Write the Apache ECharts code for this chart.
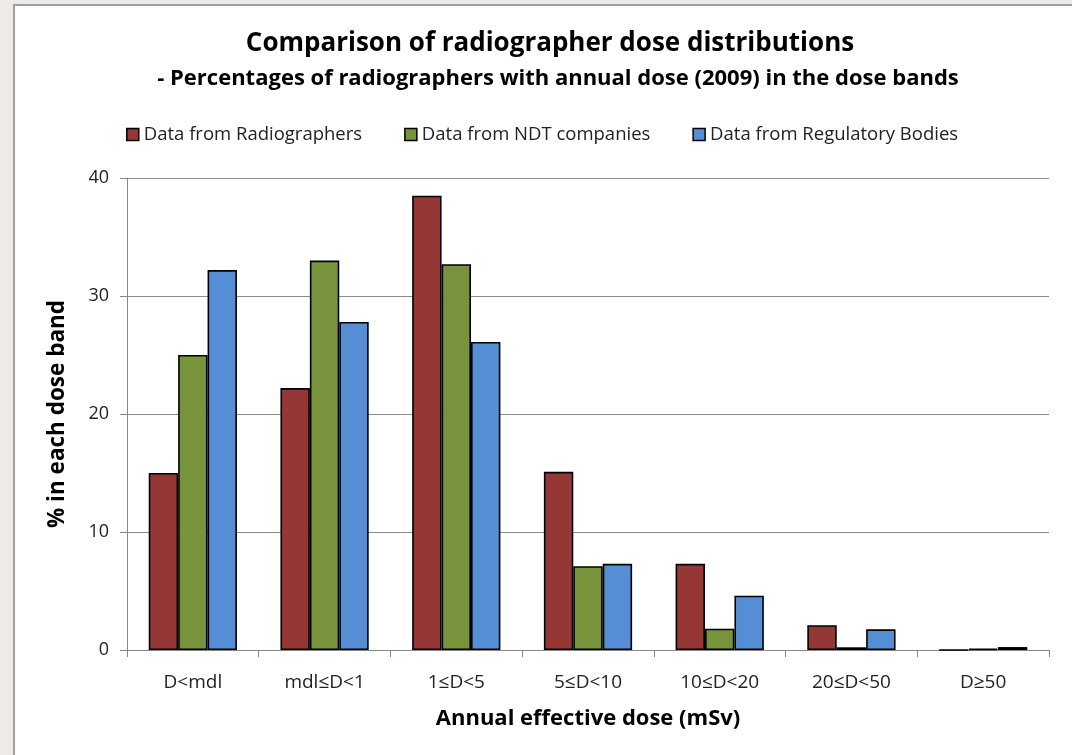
<!DOCTYPE html>
<html><head><meta charset="utf-8">
<script src="https://cdn.jsdelivr.net/npm/echarts@6/dist/echarts.min.js"></script>
<style>html,body{margin:0;padding:0;background:#eeebe6}#c{width:1072px;height:755px}</style>
</head><body><div id="c"></div>
<script>
const categories = ['D<mdl', 'mdl≤D<1', '1≤D<5', '5≤D<10', '10≤D<20', '20≤D<50', 'D≥50'];
const radiographers = [15.0, 22.2, 38.5, 15.1, 7.3, 2.1, 0];
const ndtCompanies = [25.0, 33.0, 32.7, 7.1, 1.8, 0.23, 0.1];
const regulatoryBodies = [32.2, 27.8, 26.1, 7.3, 4.6, 1.75, 0.25];
const seriesNames = ['Data from Radiographers', 'Data from NDT companies', 'Data from Regulatory Bodies'];
const colors = ['#953735', '#77933C', '#558ED5'];
const font = '"Open Sans", sans-serif';

const chart = echarts.init(document.getElementById('c'));
const mk = (name, data, color) => ({
  name, type: 'bar', data, barGap: '0%', barCategoryGap: '33%',
  itemStyle: { color, borderColor: '#000', borderWidth: 1.6 }
});
chart.setOption({
  backgroundColor: '#eeebe6',
  animation: false,
  graphic: [{ type: 'rect', z: -10, shape: { x: 14, y: 5, width: 1070, height: 760 },
    style: { fill: '#fff', stroke: '#a0a0a0', lineWidth: 2 } }],
  title: [
    { text: 'Comparison of radiographer dose distributions', left: 545, top: 26, textAlign: 'center',
      textStyle: { fontFamily: font, fontSize: 26, fontWeight: 'bold', color: '#000' } },
    { text: '- Percentages of radiographers with annual dose (2009) in the dose bands', left: 553, top: 63, textAlign: 'center',
      textStyle: { fontFamily: font, fontSize: 22, fontWeight: 'bold', color: '#000' } }
  ],
  legend: {
    left: 121, top: 120, itemWidth: 12, itemHeight: 12, itemGap: 42, icon: 'rect',
    itemStyle: { borderColor: '#000', borderWidth: 1.5 },
    textStyle: { fontFamily: font, fontSize: 18.5, color: '#222' },
    data: seriesNames
  },
  grid: { left: 127, top: 178, right: 23, bottom: 105 },
  xAxis: {
    type: 'category', data: categories,
    name: 'Annual effective dose (mSv)', nameLocation: 'middle', nameGap: 58,
    nameTextStyle: { fontFamily: font, fontSize: 22, fontWeight: 'bold', color: '#000' },
    axisLine: { lineStyle: { color: '#888', width: 1 } },
    axisTick: { show: true, length: 7, lineStyle: { color: '#888' } },
    axisLabel: { fontFamily: font, fontSize: 19, color: '#222', margin: 23 }
  },
  yAxis: {
    type: 'value', min: 0, max: 40, interval: 10,
    name: '% in each dose band', nameLocation: 'middle', nameGap: 58, nameRotate: 90,
    nameTextStyle: { fontFamily: font, fontSize: 22.5, fontWeight: 'bold', color: '#000' },
    axisLine: { show: true, lineStyle: { color: '#888' } },
    axisTick: { show: true, length: 7, lineStyle: { color: '#888' } },
    axisLabel: { fontFamily: font, fontSize: 18, color: '#222', margin: 18 },
    splitLine: { lineStyle: { color: '#8c8c8c', width: 1 } }
  },
  series: [
    mk(seriesNames[0], radiographers, colors[0]),
    mk(seriesNames[1], ndtCompanies, colors[1]),
    mk(seriesNames[2], regulatoryBodies, colors[2])
  ]
});
</script></body></html>
